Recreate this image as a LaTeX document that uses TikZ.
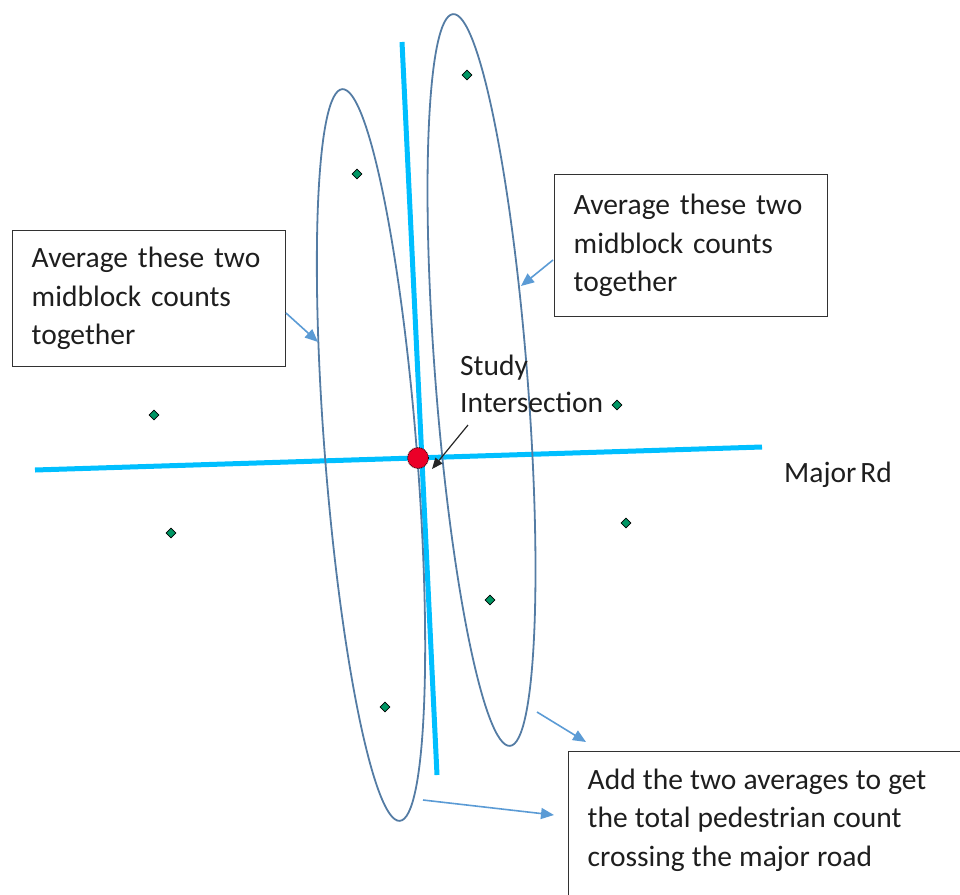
\documentclass[tikz,border=0pt]{standalone}
\usepackage{fontspec}
\setmainfont{Carlito}
\usetikzlibrary{shapes.geometric,arrows.meta}
\definecolor{roadcyan}{RGB}{0,191,255}
\definecolor{ovalblue}{RGB}{84,124,164}
\definecolor{pointblue}{RGB}{91,155,213}
\definecolor{sitegreen}{RGB}{0,150,100}
\definecolor{boxgrey}{RGB}{50,50,50}
\definecolor{textgrey}{RGB}{30,30,30}
\definecolor{studyred}{RGB}{235,0,40}
\newcommand{\capfont}{\fontsize{29.5pt}{38.5pt}\selectfont}
\newcommand{\tightwords}{\spaceskip=7.2pt plus 1pt\relax}
\tikzset{
  road/.style={draw=roadcyan,line width=5pt},
  oval/.style={draw=ovalblue,line width=1.8pt,ellipse,inner sep=0pt,minimum width=92pt,minimum height=734pt},
  pointer/.style={draw=pointblue,line width=1.6pt,-{Triangle[length=13pt,width=11pt]}},
  blackpointer/.style={draw=black!85,line width=1.2pt,-{Triangle[length=11pt,width=9pt]}},
  infobox/.style={draw=boxgrey,line width=1.4pt,align=left,anchor=north west,text=textgrey,
     font=\capfont,inner xsep=19pt},
  lbl/.style={text=textgrey,font=\capfont,align=left,inner sep=0pt},
  site/.style={diamond,draw=black,line width=0.6pt,fill=sitegreen,inner sep=0pt,minimum size=10pt},
  hub/.style={circle,draw=black,line width=0.8pt,densely dotted,fill=studyred,inner sep=0pt,minimum size=21pt}
}
\begin{document}
\begin{tikzpicture}[x=1pt,y=-1pt]
\useasboundingbox (0,0) rectangle (960,894);
\clip (0,0) rectangle (960,894);
% roads
\coordinate (minorN) at (402,42);
\coordinate (minorS) at (437,775);
\coordinate (majorW) at (35,470);
\coordinate (majorE) at (762,447);
\draw[road] (majorW) -- (majorE);
\draw[road] (minorN) -- (minorS);
% ovals
\node[oval,rotate=4.5] (ovalL) at (371,455) {};
\node[oval,rotate=4.45] (ovalR) at (481.5,380) {};
% count sites
\node[site] (s1) at (467,75) {};
\node[site] (s2) at (357,174) {};
\node[site] (s3) at (154,415) {};
\node[site] (s4) at (617,405) {};
\node[site] (s5) at (171,533) {};
\node[site] (s6) at (626,523) {};
\node[site] (s7) at (490,600) {};
\node[site] (s8) at (385,707) {};
% study intersection
\node[hub] (hub) at (418,458) {};
\node[lbl,anchor=base west] (study) at (460,375) {Study};
\node[lbl,anchor=base west] (inter) at (460,412) {Intersection};
\coordinate (studyA) at (468,425);
\coordinate (studyB) at (432,469);
\draw[blackpointer] (studyA) -- (studyB);
\node[lbl,anchor=base west] (major) at (784,482) {Major\kern4pt Rd};
% boxes
\node[infobox,text width=235pt,minimum height=136pt] (boxL) at (12,230)
  {Average these two\\midblock counts\\together};
\node[infobox,text width=235pt,minimum height=142pt] (boxR) at (554,174)
  {Average these two\\midblock counts\\together};
\node[infobox,text width=420pt,inner ysep=17pt] (boxB) at (568,751)
  {\tightwords Add the two averages to get\\the total pedestrian count\\crossing the major road\\[0pt]\rule{0pt}{60pt}};
% pointers
\coordinate (pL1) at (286,313);
\coordinate (pL2) at (318,342);
\coordinate (pR1) at (553,260);
\coordinate (pR2) at (521,286);
\coordinate (pB1) at (537,712);
\coordinate (pB2) at (586,742);
\coordinate (pC1) at (423,800);
\coordinate (pC2) at (554,815);
\draw[pointer] (pL1) -- (pL2);
\draw[pointer] (pR1) -- (pR2);
\draw[pointer] (pB1) -- (pB2);
\draw[pointer] (pC1) -- (pC2);
\end{tikzpicture}
\end{document}
